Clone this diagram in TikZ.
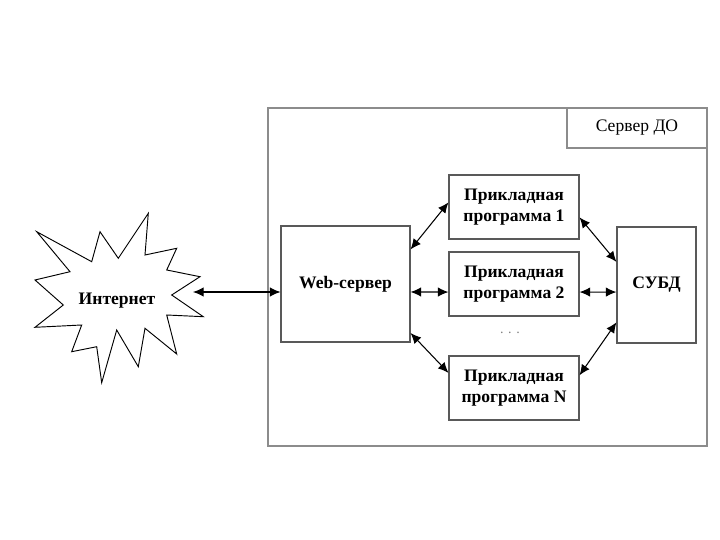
\documentclass[tikz,border=0pt]{standalone}
\usepackage{fontspec}
\setmainfont{Liberation Serif}
\usetikzlibrary{arrows.meta}
\begin{document}
\begin{tikzpicture}[x=0.03cm,y=-0.03cm,
		box/.style={draw=black!65,line width=0.9pt,fill=white,align=center,inner sep=0pt,font=\bfseries\fontsize{15}{18}\selectfont},
		app/.style={box,minimum width=3.9cm,minimum height=1.92cm},
		arr/.style={{Latex[length=9pt,width=8pt]}-{Latex[length=9pt,width=8pt]},line width=0.9pt}]
	\useasboundingbox (0,0) rectangle (720,540);
	% server frame
	\draw[black!45,line width=0.9pt] (268,108) rectangle (707,446);
	\node[box,draw=black!45,minimum width=4.2cm,minimum height=1.2cm,font=\fontsize{15}{18}\selectfont] (srv) at (637,128) {Сервер ДО};
	% internet star
	\draw[line width=0.8pt,fill=white] (36.7,231.7) -- (91.7,261.7) -- (100,231.7) -- (118.3,258.3) -- (148.3,213.3) -- (145,255) -- (176.7,248.3) -- (166.7,270) -- (200,276.7) -- (171.7,295) -- (203.3,316.7) -- (166.7,315) -- (176.7,354) -- (145,328.3) -- (138.3,366.7) -- (116.7,330) -- (101.7,382.7) -- (96.7,346.7) -- (71.7,351.7) -- (81.7,325) -- (35,327.3) -- (63.3,305) -- (35,280) -- (70,271.7) -- cycle;
	\node[font=\bfseries\fontsize{15}{18}\selectfont] (inet) at (117,301) {Интернет};
	\coordinate (inetE) at (193,292);
	% boxes
	\node[box,minimum width=3.87cm,minimum height=3.48cm] (web) at (345.5,284) {Web-сервер};
	\node[box,minimum width=2.37cm,minimum height=3.48cm] (dbms) at (656.5,285) {СУБД};
	\node[app] (p1) at (514,207) {Прикладная\\программа 1};
	\node[app] (p2) at (514,284) {Прикладная\\программа 2};
	\node[app] (pn) at (514,388) {Прикладная\\программа N};
	\node[black!50,font=\fontsize{12}{12}\selectfont] (dots) at (510,333) {. . .};
	% connectors
	\draw[arr] (inetE) -- (inetE -| web.west);
	\draw[arr] (web.28) -- (p1.176);
	\draw[arr] (web.-7) -- (p2.187);
	\draw[arr] (web.-37) -- (pn.167);
	\draw[arr] (p1.-9) -- (dbms.150);
	\draw[arr] (p2.-7) -- (dbms.190);
	\draw[arr] (pn.11) -- (dbms.223);
\end{tikzpicture}
\end{document}
